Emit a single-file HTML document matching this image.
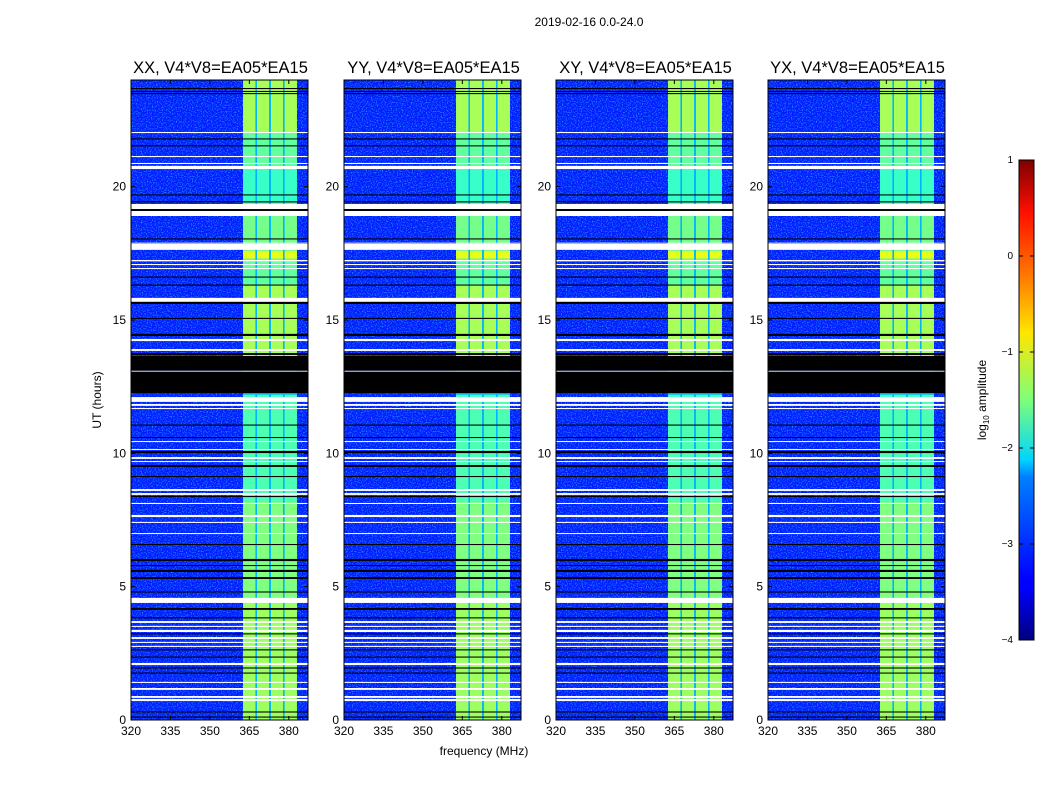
<!DOCTYPE html>
<html><head><meta charset="utf-8"><style>
body{margin:0;background:#fff;width:1050px;height:800px;overflow:hidden}
svg text{font-family:"Liberation Sans",sans-serif;fill:#000}
</style></head><body>
<svg id="fig" width="1050" height="800" xmlns="http://www.w3.org/2000/svg">
<defs>
<filter id="speckle" x="0" y="0" width="1" height="1">
<feTurbulence type="fractalNoise" baseFrequency="0.8" numOctaves="1" seed="3" result="n"/>
<feColorMatrix in="n" type="matrix" values="0 0 0 0 0.05  0 0 0 0 0.6  0 0 0 0 1  0 0 0 -3 1.6" result="c"/>
<feComposite in="c" in2="SourceGraphic" operator="in"/>
</filter>
<linearGradient id="jetgrad" x1="0" y1="1" x2="0" y2="0">
<stop offset="0" stop-color="#00007f"/><stop offset="0.11" stop-color="#0000ff"/>
<stop offset="0.125" stop-color="#0000ff"/><stop offset="0.34" stop-color="#0080ff"/>
<stop offset="0.375" stop-color="#00d4ff"/><stop offset="0.5" stop-color="#7dff7a"/>
<stop offset="0.64" stop-color="#ffe600"/><stop offset="0.75" stop-color="#ff8000"/>
<stop offset="0.89" stop-color="#ff1000"/><stop offset="1" stop-color="#7f0000"/>
</linearGradient>
</defs>
<text x="589" y="26" font-size="12" text-anchor="middle">2019-02-16 0.0-24.0</text>
<text x="101" y="400" font-size="12" text-anchor="middle" transform="rotate(-90 101 400)">UT (hours)</text>
<text x="484" y="755" font-size="12" text-anchor="middle">frequency (MHz)</text>
<g id="panels"></g>
<g id="cbar">
<rect x="1019" y="160" width="15" height="480" fill="url(#jetgrad)" stroke="#000" stroke-width="1"/>
<text x="986" y="400" font-size="12" text-anchor="middle" transform="rotate(-90 986 400)">log<tspan font-size="8" dy="3">10</tspan><tspan dy="-3"> amplitude</tspan></text>
</g>
</svg>
<script>
const NS="http://www.w3.org/2000/svg";
const panelTitles=["XX, V4*V8=EA05*EA15","YY, V4*V8=EA05*EA15","XY, V4*V8=EA05*EA15","YX, V4*V8=EA05*EA15"];
const xTicks=[320,335,350,365,380];
const yTicks=[0,5,10,15,20];
const cbTicks=[-4,-3,-2,-1,0,1];
const bgLevel=-3.25;
const rfiChannels=[[362.6,367.3],[367.9,372.5],[373.2,377.8],[378.4,383.1]];
const rfiSepLevel=-2.5;
// [hourLow, hourHigh, log10 amplitude] for RFI channels
const rfiLevels=[[0,4.4,-1.35],[4.4,8.2,-1.5],[8.2,12.2,-1.75],[13.6,16.3,-1.3],[16.3,17.3,-1.65],[17.3,17.6,-1.0],[17.6,19.4,-1.55],[19.4,20.8,-1.85],[20.8,22,-1.65],[22,24,-1.3]];
const whiteFlags=[[17.63,17.85],[17.2,17.25],[17.06,17.1],[16.91,16.95],[15.68,15.83],[14.21,14.29],[13.84,13.91],[13.06,13.1],[11.93,12.11],[11.78,11.85],[11.66,11.7],[10.43,10.46],[10.13,10.16],[9.79,9.86],[9.68,9.71],[8.59,8.66],[8.44,8.51],[8.1,8.14],[7.61,7.69],[7.39,7.43],[6.98,7.01],[4.39,4.58],[3.64,3.71],[3.49,3.53],[3.3,3.38],[3.04,3.11],[2.89,2.93],[2.74,2.78],[2.06,2.14],[1.39,1.43],[1.13,1.2],[0.83,0.9],[0.71,0.79],[22.01,22.05],[21.11,21.15],[20.85,20.89],[20.66,20.78],[19.16,19.35],[18.9,19.09],[17.87,17.9]];
const blackFlags=[[23.66,23.7],[23.55,23.59],[23.47,23.51],[21.77,21.81],[21.51,21.55],[19.67,19.71],[19.41,19.45],[19.09,19.16],[18.02,18.06],[16.59,16.63],[16.29,16.33],[15.6,15.68],[15.04,15.08],[14.4,14.48],[13.69,13.76],[12.26,13.06],[13.1,13.65],[11.04,11.08],[10.58,10.61],[10.01,10.09],[9.49,9.56],[9.11,9.15],[8.36,8.4],[6.56,6.6],[5.96,6.04],[5.78,5.81],[5.55,5.63],[5.29,5.36],[4.78,4.82],[4.13,4.2],[3.81,3.85],[3.21,3.25],[2.61,2.65],[2.34,2.38],[1.93,1.97],[1.74,1.78],[0.28,0.32],[0.09,0.13]];

function jet(v){const t=Math.max(0,Math.min(1,(v+4)/5));
 const r=Math.max(0,Math.min(1,1.5-Math.abs(4*t-3))),g=Math.max(0,Math.min(1,1.5-Math.abs(4*t-2))),b=Math.max(0,Math.min(1,1.5-Math.abs(4*t-1)));
 return `rgb(${Math.round(r*255)},${Math.round(g*255)},${Math.round(b*255)})`;}
function mk(tag,attrs,parent){const e=document.createElementNS(NS,tag);for(const k in attrs)e.setAttribute(k,attrs[k]);parent.appendChild(e);return e;}
const panelLefts=[131,344,556,768],PW=177,PT=80,PB=720,F0=320,FPX=2.63,HMAX=24;
const panels=document.getElementById('panels');
panelLefts.forEach((L,pi)=>{
 const xs=f=>L+(f-F0)*FPX, ys=h=>PB-(h/HMAX)*(PB-PT);
 const g=mk('g',{},panels);
 
 
 const bg=mk('rect',{x:L,y:PT,width:PW,height:PB-PT,fill:jet(bgLevel)},g);
 
 
 const sp=mk('rect',{x:L,y:PT,width:PW,height:PB-PT,fill:'#fff',filter:'url(#speckle)',opacity:0.7},g);
 
 
 const sep=mk('rect',{x:xs(rfiChannels[0][0]),y:PT,width:xs(rfiChannels[3][1])-xs(rfiChannels[0][0]),height:PB-PT,fill:jet(rfiSepLevel)},g);
 
 
 rfiChannels.forEach(ch=>{rfiLevels.forEach(lv=>{
  const r=mk('rect',{x:xs(ch[0]),y:ys(lv[1]),width:xs(ch[1])-xs(ch[0]),height:ys(lv[0])-ys(lv[1]),fill:jet(lv[2])},g);
  
  
 });});
 whiteFlags.forEach(b=>{const r=mk('rect',{x:L,y:ys(b[1]),width:PW,height:Math.max(1,ys(b[0])-ys(b[1])),fill:'#fff'},g);
  
  });
 blackFlags.forEach(b=>{const r=mk('rect',{x:L,y:ys(b[1]),width:PW,height:Math.max(1,ys(b[0])-ys(b[1])),fill:'#000'},g);
  
  });
 const fr=mk('rect',{x:L,y:PT,width:PW,height:PB-PT,fill:'none',stroke:'#000','stroke-width':1},g);
 
 
 const t=mk('text',{x:L+PW/2+1,y:PT-7,'font-size':16.5,'text-anchor':'middle'},g);t.textContent=panelTitles[pi];
 
 
 xTicks.forEach(v=>{const x=xs(v);
  mk('line',{x1:x,x2:x,y1:PB,y2:PB-4,stroke:'#000'},g);mk('line',{x1:x,x2:x,y1:PT,y2:PT+4,stroke:'#000'},g);
  const l=mk('text',{x:x,y:PB+15,'font-size':12,'text-anchor':'middle'},g);l.textContent=v;
  
  });
 yTicks.forEach(v=>{const y=ys(v);
  mk('line',{x1:L,x2:L+4,y1:y,y2:y,stroke:'#000'},g);mk('line',{x1:L+PW,x2:L+PW-4,y1:y,y2:y,stroke:'#000'},g);
  const l=mk('text',{x:L-5,y:y+4,'font-size':12,'text-anchor':'end'},g);l.textContent=v;
  
  });
});
const cb=document.getElementById('cbar');
cbTicks.forEach(v=>{const y=640-(v+4)/5*480;
 mk('line',{x1:1019,x2:1023,y1:y,y2:y,stroke:'#000'},cb);mk('line',{x1:1034,x2:1030,y1:y,y2:y,stroke:'#000'},cb);
 const l=mk('text',{x:1013,y:y+3,'font-size':10,'text-anchor':'end'},cb);l.textContent=(v<0?'\u2212'+(-v):v);
 
 });
</script>
</body></html>
